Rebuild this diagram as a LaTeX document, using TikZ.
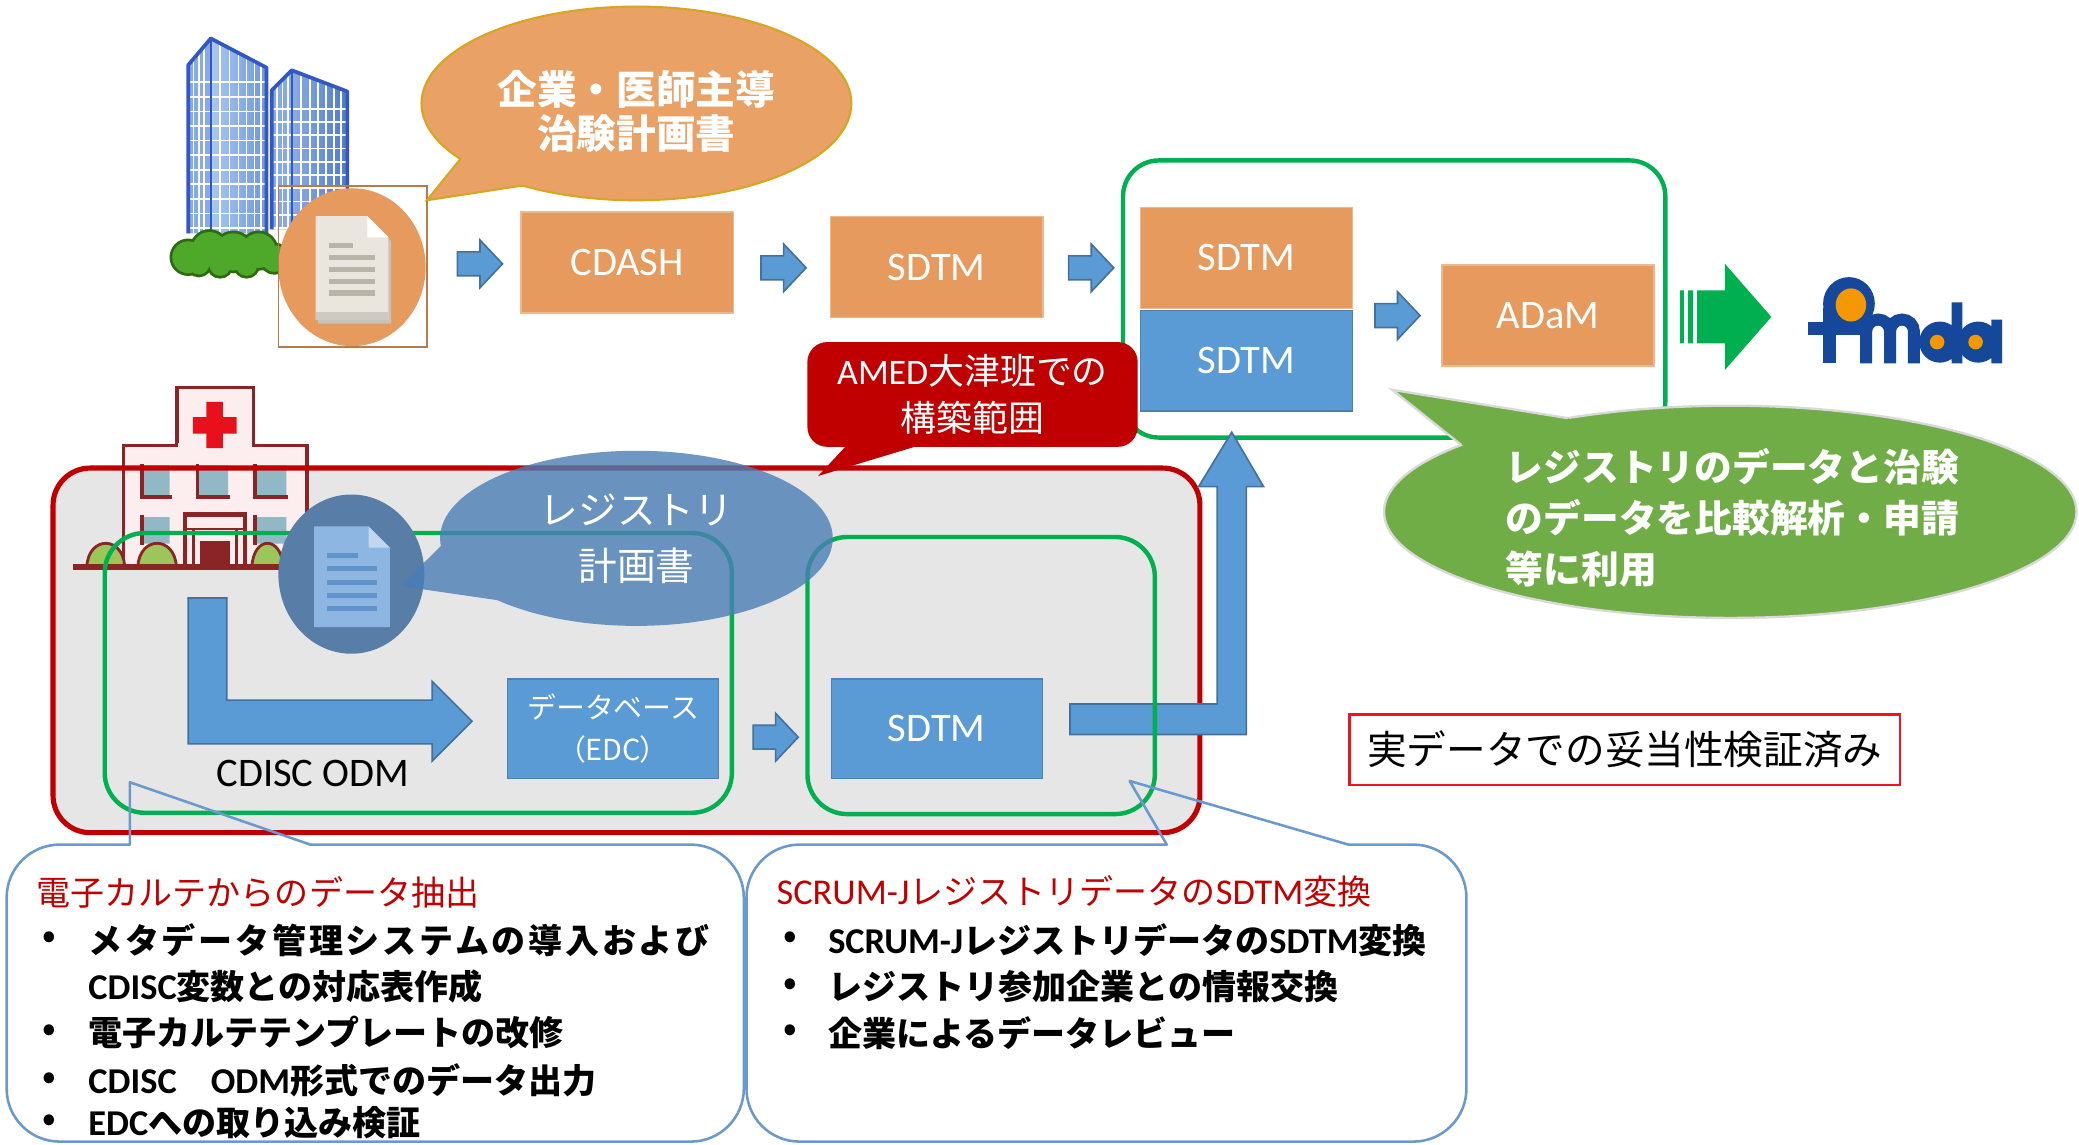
\documentclass[tikz,border=0pt]{standalone}
\usepackage{fontspec}
\newfontfamily\jpfont{Noto Sans CJK JP}
\newfontfamily\jpprop[RawFeature=+palt]{Noto Sans CJK JP}
\newfontfamily\latfont{Carlito}
\usetikzlibrary{calc}

\definecolor{boxorange}{HTML}{E69A5E}
\definecolor{bubbleorange}{HTML}{E9A166}
\definecolor{bubbleedge}{HTML}{D9A520}
\definecolor{boxblue}{HTML}{5B9BD5}
\definecolor{arrowblue}{HTML}{5B9BD5}
\definecolor{arrowedge}{HTML}{41719C}
\definecolor{frgreen}{HTML}{00B050}
\definecolor{bubblegreen}{HTML}{70AD47}
\definecolor{darkred}{HTML}{C00000}
\definecolor{scopegray}{HTML}{E6E6E6}
\definecolor{calloutblue}{HTML}{6A9ACD}
\definecolor{regblue}{HTML}{4A7EB6}
\definecolor{doccircle}{HTML}{587DA6}
\definecolor{docblue}{HTML}{8DB6E2}
\definecolor{doclineblue}{HTML}{5F93C9}
\definecolor{paper}{HTML}{EAE6DD}
\definecolor{paperline}{HTML}{B9B4A9}
\definecolor{twside}{HTML}{86AAE6}
\definecolor{twlight}{HTML}{A9C7F2}
\definecolor{twmid}{HTML}{6F97DC}
\definecolor{twdeep}{HTML}{4E7BCB}
\definecolor{twedge}{HTML}{3358C4}
\definecolor{bushgreen}{HTML}{4EA82A}
\definecolor{bushedge}{HTML}{2E6B10}
\definecolor{hospline}{HTML}{8B2525}
\definecolor{hospwall}{HTML}{FCEEEE}
\definecolor{hospwin}{HTML}{92B8C6}
\definecolor{hospbush}{HTML}{9CC65A}
\definecolor{crossred}{HTML}{E8101A}
\definecolor{pmblue}{HTML}{15479B}
\definecolor{pmorange}{HTML}{F39800}
\definecolor{checkred}{HTML}{F0141E}

\newcommand\latb[1]{{\latfont\bfseries\fontsize{7.8}{9}\selectfont #1}}
\newcommand\latr[1]{{\latfont\fontsize{7.8}{9}\selectfont #1}}

\tikzset{
  boxlabel/.style={font=\latfont\fontsize{8.7}{10}\selectfont, text=white},
  obox/.style={boxlabel, fill=boxorange, draw=boxorange!70!white, line width=0.3pt,
    inner sep=0pt, minimum width=1.6cm, minimum height=0.76cm},
  bbox/.style={obox, fill=boxblue, draw=arrowedge!60!boxblue},
  grnframe/.style={draw=frgreen, line width=0.95pt, rounded corners=0.3cm},
  blockarrow/.style={fill=arrowblue, draw=arrowedge, line width=0.35pt},
  callout/.style={draw=calloutblue, line width=0.55pt, line join=round},
  listtext/.style={anchor=west, inner sep=0pt, font=\jpfont\bfseries\fontsize{7.3}{9}\selectfont},
  listhead/.style={anchor=west, inner sep=0pt, text=darkred, font=\jpfont\fontsize{7.3}{9}\selectfont},
  winframe/.style={draw=hospline, line width=0.8pt, line cap=rect},
  rarrow/.pic={\path[blockarrow] (0,-9) -- (17,-9) -- (17,-18) -- (34,0) -- (17,18) -- (17,9) -- (0,9) -- cycle;},
}

\begin{document}
\begin{tikzpicture}[x=0.01cm,y=-0.01cm]
\useasboundingbox (0,0) rectangle (1568,863);
\fill[white] (0,0) rectangle (1568,863);

% ---------- company towers ----------
\fill[twside] (142,49) -- (159,29) -- (159,176) -- (142,176) -- cycle;
\shade[left color=twlight, right color=twmid] (159,29) -- (201,51) -- (201,176) -- (159,176) -- cycle;
\begin{scope}
  \clip (142,49) -- (159,29) -- (201,51) -- (201,176) -- (142,176) -- cycle;
  \draw[white, line width=0.35pt] \foreach \gx in {146,150,154,166,173,180,186,192,197} {(\gx,20) -- (\gx,185)}
    \foreach \gy in {62,73,...,172} {(142,\gy) -- (201,\gy)};
\end{scope}
\draw[twedge, line width=0.8pt, line join=round] (142,176) -- (142,49) -- (159,29) -- (201,51) -- (201,176);
\draw[twedge, line width=0.5pt] (159,29) -- (159,176);

\fill[twside] (205,68) -- (220,53) -- (220,173) -- (205,173) -- cycle;
\shade[left color=twmid!80!white, right color=twdeep] (220,53) -- (262,69) -- (262,173) -- (220,173) -- cycle;
\begin{scope}
  \clip (205,68) -- (220,53) -- (262,69) -- (262,173) -- (205,173) -- cycle;
  \draw[white, line width=0.35pt] \foreach \gx in {209,213,217,227,234,240,246,252,257} {(\gx,40) -- (\gx,185)}
    \foreach \gy in {82,92,...,172} {(205,\gy) -- (262,\gy)};
\end{scope}
\draw[twedge, line width=0.8pt, line join=round] (205,173) -- (205,68) -- (220,53) -- (262,69) -- (262,173);
\draw[twedge, line width=0.5pt] (220,53) -- (220,173);

% bushes
\draw[bushedge, line width=1.2pt] (142,194) circle[radius=0.12cm] (158,188) circle[radius=0.13cm]
  (176,190) circle[radius=0.14cm] (195,189) circle[radius=0.13cm] (207,195) circle[radius=0.1cm]
  (150,199) circle[radius=0.08cm] (166,200) circle[radius=0.08cm] (186,200) circle[radius=0.08cm];
\fill[bushgreen] (142,194) circle[radius=0.12cm] (158,188) circle[radius=0.13cm]
  (176,190) circle[radius=0.14cm] (195,189) circle[radius=0.13cm] (207,195) circle[radius=0.1cm]
  (150,199) circle[radius=0.08cm] (166,200) circle[radius=0.08cm] (186,200) circle[radius=0.08cm];

% ---------- protocol document (top) ----------
\fill[boxorange] (265.5,201.5) ellipse [x radius=0.555cm, y radius=0.595cm];
\draw[boxorange!80!black, line width=0.4pt] (210,140) rectangle (322,262);
\fill[paperline!80!white] (240,166) -- (279,166) -- (295,182) -- (295,244) -- (240,244) -- cycle;
\fill[paper] (238,163) -- (277,163) -- (293,179) -- (293,241) -- (238,241) -- cycle;
\fill[white] (277,163) -- (277,179) -- (293,179) -- cycle;
\fill[paperline!55!paper] (238,235) rectangle (293,241);
\draw[paperline, line width=1.1pt] (248,185) -- (266,185) (248,194) -- (283,194) (248,203) -- (283,203)
  (248,212) -- (283,212) (248,221) -- (283,221);

% speech bubble of the trial protocol
\fill[bubbleorange, draw=bubbleedge, line width=0.45pt] (480,78) ellipse [x radius=1.62cm, y radius=0.73cm];
\fill[bubbleorange] ($(480,78)+(145:162 and 73)$) -- (322,151) -- ($(480,78)+(122:162 and 73)$) -- (470,90) -- cycle;
\draw[bubbleedge, line width=0.45pt] ($(480,78)+(145:162 and 73)$) -- (322,151) -- ($(480,78)+(122:162 and 73)$);
\node[font=\jpfont\bfseries\fontsize{8.5}{9.4}\selectfont, text=white, align=center] (trialplan) at (480,84)
  {企業・医師主導\\治験計画書};

% ---------- standards flow (top row) ----------
\node[obox] (cdash) at (473,198) {CDASH};
\pic at (345,199) {rarrow};
\node[obox] (sdtm1) at (706.5,201.5) {SDTM};
\pic at (574,202) {rarrow};
\pic at (806,202) {rarrow};
\draw[grnframe, rounded corners=0.27cm] (847,121) rectangle (1256,330);
\node[obox] (sdtmA) at (940,194.5) {SDTM};
\node[bbox] (sdtmB) at (940,272) {SDTM};
\pic at (1037,238) {rarrow};
\node[obox] (adam) at (1167.5,238) {ADaM};

% striped green arrow
\fill[frgreen] (1267,219) rectangle (1270,259) (1273,219) rectangle (1277,259);
\fill[frgreen] (1280,219) -- (1301,219) -- (1301,199) -- (1336,239) -- (1301,279) -- (1301,259) -- (1280,259) -- cycle;

% PMDA logo
\fill[pmblue] (1394.5,229) ellipse [x radius=0.195cm, y radius=0.2cm];
\fill[pmorange] (1396,230) ellipse [x radius=0.115cm, y radius=0.125cm];
\fill[pmblue] (1375,232) rectangle (1385,274);
\fill[pmblue] (1363.5,243) rectangle (1404,252.6);
\draw[pmblue, line width=0.09cm] (1407.5,274) -- (1407.5,250) arc[start angle=180, end angle=0, radius=0.09cm] -- (1425.5,274)
  (1425.5,250) arc[start angle=180, end angle=0, radius=0.09cm] -- (1443.5,274);
\fill[pmblue] (1463,258) circle[radius=0.155cm] (1472,228) rectangle (1480,274);
\fill[pmblue] (1492,258) circle[radius=0.155cm] (1502,241) rectangle (1510,274);
\fill[pmorange] (1461,258) circle[radius=0.055cm] (1490,258) circle[radius=0.055cm];

% ---------- AMED label ----------
\node[fill=darkred, rounded corners=0.15cm, minimum width=2.49cm, minimum height=0.79cm, inner sep=0pt,
  text=white, align=center, font=\jpfont\fontsize{7.7}{10}\selectfont] (amed) at (733.5,297.5)
  {{\latfont AMED}大津班での\\構築範囲};

% ---------- registry scope ----------
\fill[scopegray, rounded corners=0.28cm] (40,353) rectangle (905,628);

% hospital
\draw[hospline, line width=0.7pt, fill=hospwall] (133.5,292) rectangle (191,336);
\draw[hospline, line width=0.7pt, fill=hospwall] (93,336) rectangle (231.5,427);
\fill[hospwall] (134.5,334) rectangle (190,338);
\fill[crossred] (155.6,303) rectangle (168,338) (145.5,314.5) rectangle (178.5,327);
\fill[hospwin] (107,351) rectangle (128,375) (149,351) rectangle (172,375) (192.5,351) rectangle (216,375)
  (107,390) rectangle (128,410) (192.5,390) rectangle (216,410);
\draw[winframe] (107,351) -- (107,375) -- (128,375) (149,351) -- (149,375) -- (172,375)
  (192.5,351) -- (192.5,375) -- (216,375) (107,390) -- (107,410) (192.5,390) -- (192.5,410);
\draw[hospline, line width=0.9pt, fill=hospwall] (139.5,388) rectangle (185,427);
\draw[hospline, line width=0.6pt] (139.5,399) -- (185,399) (146,399) -- (146,427) (178.5,399) -- (178.5,427);
\fill[hospline] (151,408) rectangle (173.5,427);
\draw[hospline, line width=0.6pt, fill=hospbush] (65.5,427) .. controls (67,404) and (92.5,404) .. (94,427) -- cycle
  (104,427) .. controls (105.5,404) and (131.5,404) .. (133,427) -- cycle
  (190,427) .. controls (191.5,404) and (212,404) .. (213.5,427) -- cycle;
\fill[hospline] (55,425) rectangle (214,430);

\draw[darkred, line width=1.1pt, rounded corners=0.28cm] (40,353) rectangle (905,628);
\fill[darkred] (644,330) -- (617,359) -- (713,330) -- cycle;

% SDTM of the registry up to the combined set
\path[blockarrow] (807,531) -- (918,531) -- (918,367) -- (904,367) -- (929,326) -- (953,367) -- (940,367)
  -- (940,554) -- (807,554) -- cycle;

\draw[grnframe] (79,402) rectangle (552,613);
\draw[grnframe] (609,405) rectangle (871,614);

% registry protocol document
\fill[doccircle] (265,433) ellipse [x radius=0.55cm, y radius=0.6cm];
\fill[docblue] (237,397) -- (278,397) -- (294,413) -- (294,473) -- (237,473) -- cycle;
\fill[docblue!55!white] (278,397) -- (278,413) -- (294,413) -- cycle;
\draw[doclineblue, line width=1.1pt] (247,419) -- (270,419) (247,429) -- (284,429) (247,439) -- (284,439)
  (247,449) -- (284,449) (247,459) -- (284,459);

\begin{scope}[transparency group, opacity=0.8]
  \fill[regblue] (480,406) ellipse [x radius=1.48cm, y radius=0.66cm];
  \fill[regblue] ($(480,406)+(175:148 and 66)$) -- (302,442) -- ($(480,406)+(135:148 and 66)$) -- (480,406) -- cycle;
\end{scope}
\node[font=\jpfont\fontsize{8.3}{12}\selectfont, text=white, align=center] (regplan) at (480,406)
  {レジストリ\\計画書};

% EHR export into the EDC
\path[blockarrow] (142,451) -- (171,451) -- (171,528) -- (326,528) -- (326,514) -- (356,544) -- (326,574)
  -- (326,561) -- (142,561) -- cycle;
\node[font=\latfont\fontsize{8.7}{10}\selectfont] (odm) at (236,583) {CDISC ODM};
\node[bbox, minimum width=1.59cm, minimum height=0.75cm, align=center,
  font=\jpfont\fontsize{6.2}{9.1}\selectfont] (db) at (462.5,549.5) {データベース\\{\jpprop （EDC）}};
\pic at (568,556) {rarrow};
\node[bbox, minimum width=1.59cm, minimum height=0.75cm] (sdtmL) at (706.5,549.5) {SDTM};

% ---------- work items ----------
\draw[callout] (98,590) -- (98,637) [rounded corners=0.4cm] -- (5,637) -- (5,861) -- (561,861) -- (561,637)
  [sharp corners] -- (234,637) -- cycle;
\draw[callout] (852,589) -- (1017,637) [rounded corners=0.4cm] -- (1106,637) -- (1106,861) -- (563,861) -- (563,637)
  [sharp corners] -- (880,637) -- cycle;

\node[listhead] (h1) at (27,673) {電子カルテからのデータ抽出};
\foreach \by [count=\bi] in {709,779,815,847}
  \node[listtext] (b1\bi) at (31,\by) {•};
\node[listtext] (t11) at (66,709) {\addfontfeature{LetterSpace=8}メタデータ管理システムの導入および};
\node[listtext] (t12) at (66,744) {\latb{CDISC}変数との対応表作成};
\node[listtext] (t13) at (66,779) {電子カルテテンプレートの改修};
\node[listtext] (t14) at (66,815) {\latb{CDISC}　\latb{ODM}形式でのデータ出力};
\node[listtext] (t15) at (66,847) {\latb{EDC}への取り込み検証};

\node[listhead] (h2) at (585,672) {\latr{SCRUM-J}レジストリデータの\latr{SDTM}変換};
\foreach \by [count=\bi] in {709,744,779}
  \node[listtext] (b2\bi) at (590,\by) {•};
\node[listtext] (t21) at (624,709) {\latb{SCRUM-J}レジストリデータの\latb{SDTM}変換};
\node[listtext] (t22) at (624,744) {レジストリ参加企業との情報交換};
\node[listtext] (t23) at (624,779) {企業によるデータレビュー};

% ---------- comparison bubble ----------
\fill[bubblegreen, draw=white!70!gray, line width=0.5pt] (1305,386) ellipse [x radius=2.61cm, y radius=0.8cm];
\fill[bubblegreen] ($(1305,386)+(219:261 and 80)$) -- (1050,294) -- ($(1305,386)+(242:261 and 80)$) -- (1300,380) -- cycle;
\draw[white!70!gray, line width=0.5pt] ($(1305,386)+(219:261 and 80)$) -- (1050,294) -- ($(1305,386)+(242:261 and 80)$);
\node[anchor=west, inner sep=0pt, align=left, text=white, font=\jpfont\bfseries\fontsize{8.1}{11}\selectfont]
  (usage) at (1135,390.5) {レジストリのデータと治験\\のデータを比較解析・申請\\等に利用};

% ---------- validation note ----------
\node[draw=checkred, line width=0.5pt, fill=white, minimum width=4.15cm, minimum height=0.53cm, inner sep=0pt,
  font=\jpfont\fontsize{8.5}{10}\selectfont] (valid) at (1225.5,565.5) {実データでの妥当性検証済み};
\end{tikzpicture}
\end{document}
